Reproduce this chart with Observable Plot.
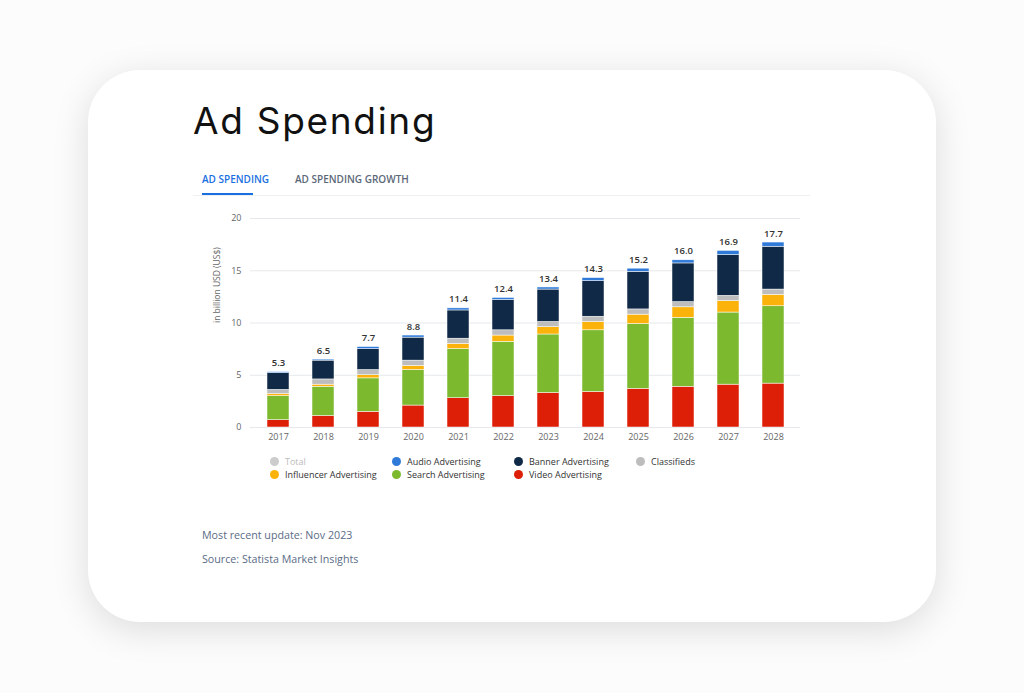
<!DOCTYPE html>
<html>
<head>
<meta charset="utf-8">
<script src="https://cdn.jsdelivr.net/npm/d3@7"></script>
<script src="https://cdn.jsdelivr.net/npm/@observablehq/plot@0.6"></script>
<style>
  html, body { margin: 0; padding: 0; background: #fcfcfc; width: 1024px; height: 693px; overflow: hidden; }
  #card { position: absolute; left: 88px; top: 70px; width: 848px; height: 552px; background: #fff;
          border-radius: 52px; box-shadow: 0 8px 36px rgba(0,0,0,0.13); }
  #title { position: absolute; left: 193px; top: 98px; font-family: Inter, sans-serif; font-size: 37px; color: #111; font-weight: 400; letter-spacing: 1.7px; }
  .tab { position: absolute; top: 172px; font-family: "Open Sans", sans-serif; font-size: 10px; font-weight: 600; }
  #tab1 { left: 202px; color: #1a6fe0; }
  #tab2 { left: 295px; color: #5b6878; }
  #tabline { position: absolute; left: 193px; top: 195px; width: 617px; height: 1px; background: #eef0f2; }
  #tabul { position: absolute; left: 202px; top: 193px; width: 51px; height: 2px; background: #1a6fe0; }
  #chart { position: absolute; left: 193px; top: 200px; }
  #legend { position: absolute; left: 270px; top: 455px; font-family: "Open Sans", sans-serif; font-size: 9px; color: #333; }
  .li { position: absolute; white-space: nowrap; }
  .dot { display: inline-block; width: 9px; height: 9px; border-radius: 50%; margin-right: 6px; vertical-align: -1px; }
  .foot { position: absolute; left: 202px; font-family: "Open Sans", sans-serif; font-size: 10.7px; color: #5a6c86; }
</style>
</head>
<body>
<div id="card"></div>
<div id="title">Ad Spending</div>
<div class="tab" id="tab1">AD SPENDING</div>
<div class="tab" id="tab2">AD SPENDING GROWTH</div>
<div id="tabline"></div>
<div id="tabul"></div>
<div id="chart"></div>
<div id="legend"></div>
<div class="foot" style="top:528px">Most recent update: Nov 2023</div>
<div class="foot" style="top:552px">Source: Statista Market Insights</div>
<script>
const years = ["2017","2018","2019","2020","2021","2022","2023","2024","2025","2026","2027","2028"];
const video       = [0.7, 1.1, 1.5, 2.1, 2.8, 3.0, 3.3, 3.4, 3.7, 3.9, 4.1, 4.2];
const search      = [2.3, 2.8, 3.2, 3.4, 4.7, 5.2, 5.6, 5.9, 6.2, 6.6, 6.9, 7.4];
const influencer  = [0.2, 0.2, 0.3, 0.4, 0.5, 0.6, 0.7, 0.8, 0.9, 1.0, 1.1, 1.1];
const classifieds = [0.4, 0.5, 0.5, 0.5, 0.5, 0.5, 0.5, 0.5, 0.5, 0.5, 0.5, 0.5];
const banner      = [1.6, 1.8, 2.0, 2.2, 2.7, 2.9, 3.1, 3.4, 3.6, 3.7, 3.9, 4.1];
const audio       = [0.1, 0.1, 0.2, 0.2, 0.2, 0.2, 0.2, 0.3, 0.3, 0.3, 0.4, 0.4];
const totals      = [5.3, 6.5, 7.7, 8.8, 11.4, 12.4, 13.4, 14.3, 15.2, 16.0, 16.9, 17.7];
const yTicks = [0, 5, 10, 15, 20];

const seriesNames = ["Video Advertising","Search Advertising","Influencer Advertising","Classifieds","Banner Advertising","Audio Advertising"];
const seriesValues = [video, search, influencer, classifieds, banner, audio];
const seriesColors = ["#dc1f06","#7db92f","#fbb30c","#bdbdbd","#0f2946","#2f7ad9"];

const rows = [];
seriesNames.forEach((s, i) => years.forEach((y, j) => rows.push({year: y, series: s, value: seriesValues[i][j]})));
const totalRows = years.map((y, j) => ({year: y, total: totals[j]}));

const chart = Plot.plot({
  width: 617, height: 260,
  marginLeft: 57, marginRight: 10, marginTop: 18, marginBottom: 33,
  style: {fontFamily: "'Open Sans', sans-serif", fontSize: "9px", color: "#666", background: "transparent"},
  x: {domain: years, paddingInner: 0.52, paddingOuter: 0.37, label: null},
  y: {domain: [0, 20], label: null},
  color: {domain: seriesNames, range: seriesColors},
  marks: [
    Plot.gridY(yTicks, {stroke: "#e6e8eb", strokeOpacity: 1}),
    Plot.axisY(yTicks, {tickSize: 0, tickPadding: 9, label: null, fill: "#666"}),
    Plot.axisX({tickSize: 0, tickPadding: 6, label: null, fill: "#666"}),
    Plot.barY(rows, {x: "year", y: "value", fill: "series", stroke: "#fff", strokeWidth: 0.5}),
    Plot.text(totalRows, {x: "year", y: "total", text: d => d.total.toFixed(1), dy: -9, fill: "#333", fontWeight: 600, fontSize: 9.5}),
    Plot.text(["in billion USD (US$)"], {frameAnchor: "left", dx: -33, rotate: -90, fill: "#666", fontSize: 8.5})
  ]
});
document.getElementById("chart").appendChild(chart);

const legendItems = [
  {name: "Total", color: "#cccccc", text: "#bbbbbb"},
  {name: "Audio Advertising", color: seriesColors[5]},
  {name: "Banner Advertising", color: seriesColors[4]},
  {name: "Classifieds", color: seriesColors[3]},
  {name: "Influencer Advertising", color: seriesColors[2]},
  {name: "Search Advertising", color: seriesColors[1]},
  {name: "Video Advertising", color: seriesColors[0]}
];
const leg = document.getElementById("legend");
legendItems.forEach((it, i) => {
  const d = document.createElement("div");
  d.className = "li";
  d.style.left = (i % 4) * 122 + "px";
  d.style.top = Math.floor(i / 4) * 13 + "px";
  if (it.text) d.style.color = it.text;
  d.innerHTML = `<span class="dot" style="background:${it.color}"></span>${it.name}`;
  leg.appendChild(d);
});
</script>
</body>
</html>
